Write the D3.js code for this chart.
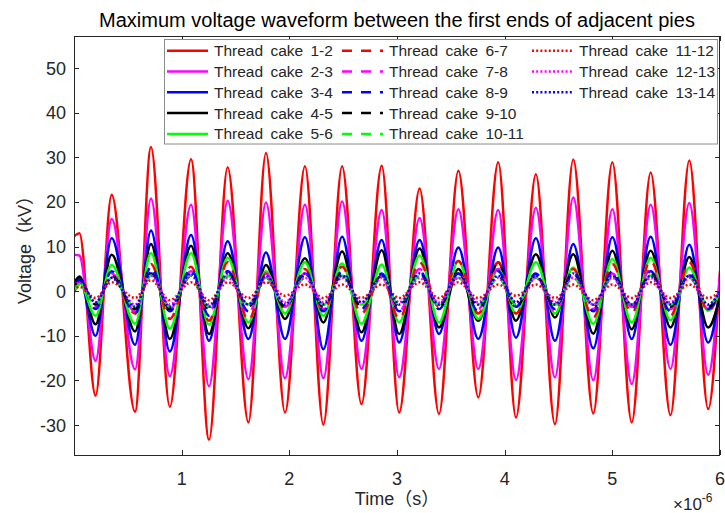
<!DOCTYPE html>
<html>
<head>
<meta charset="utf-8">
<script src="https://cdn.jsdelivr.net/npm/d3@7"></script>
<style>
  body { margin: 0; background: #fff; }
  svg { display: block; }
  text { font-family: "Liberation Sans", Arial, "Noto Sans CJK SC", sans-serif; }
</style>
</head>
<body>
<svg id="chart" width="725" height="513"></svg>
<script>
// Times (in microseconds) of the successive peaks and troughs shared by all waveforms
const extremaTimes = [0, 0.05, 0.2, 0.35, 0.567, 0.715, 0.89, 1.087, 1.254, 1.427, 1.62, 1.783,
  1.96, 2.145, 2.316, 2.49, 2.67, 2.858, 3.02, 3.21, 3.39, 3.57, 3.755, 3.94, 4.105, 4.29,
  4.467, 4.637, 4.823, 5.0, 5.18, 5.356, 5.54, 5.715, 5.89, 6.0];

// Voltage (kV) of each waveform at those times
const cake1_2 = [12.3, 13.0, -23.4, 21.6, -27.0, 32.3, -25.9, 29.6, -33.3, 27.8, -29.4, 31.0,
  -27.2, 28.0, -29.9, 28.0, -25.3, 28.1, -27.2, 23.0, -27.5, 27.0, -23.8, 28.9, -28.3, 26.2,
  -29.8, 29.5, -27.4, 28.9, -29.4, 26.6, -27.8, 29.3, -26.4, 4.6];
const cake2_3 = [8.2, 8.0, -15.6, 16.2, -17.5, 20.8, -19.0, 19.4, -21.3, 20.3, -19.7, 19.9,
  -19.5, 19.4, -19.5, 20.1, -17.4, 18.2, -19.3, 16.4, -17.4, 18.4, -17.4, 18.2, -19.9, 18.7,
  -19.3, 21.0, -19.9, 18.4, -20.8, 19.4, -17.4, 19.8, -18.7, 4.0];
const cake3_4 = [2.0, 3.0, -10.0, 11.9, -12.0, 13.6, -13.5, 12.6, -11.1, 11.2, -10.7, 8.7,
  -10.7, 12.1, -13.0, 12.2, -11.1, 11.5, -11.5, 11.5, -9.6, 9.8, -10.7, 9.8, -10.4, 11.9,
  -11.1, 10.6, -12.8, 12.1, -10.7, 12.2, -12.0, 10.4, -11.5, 0.3];
const cake4_5 = [1.5, 3.3, -7.4, 8.2, -9.0, 10.6, -10.7, 10.2, -9.6, 8.5, -8.3, 5.9,
  -6.2, 7.4, -7.0, 8.9, -9.2, 9.2, -9.6, 9.6, -8.1, 5.0, -6.6, 6.5, -6.6, 8.3,
  -5.9, 8.3, -9.5, 9.1, -8.5, 9.1, -8.1, 7.7, -8.1, -1.0];
const cake5_6 = [0.0, 2.0, -5.5, 5.9, -7.3, 8.5, -8.4, 8.5, -7.5, 7.5, -7.0, 4.5,
  -5.0, 6.5, -5.5, 6.2, -7.3, 6.0, -7.0, 8.0, -7.0, 6.8, -6.2, 5.0, -5.0, 6.5,
  -5.0, 5.3, -7.3, 7.2, -7.0, 7.5, -6.5, 5.3, -4.4, 0.0];
const cake6_7 = [-0.3, 1.8, -3.0, 3.5, -5.0, 6.1, -6.2, 5.5, -6.6, 6.5, -6.5, 4.0,
  -4.0, 5.0, -4.5, 5.5, -5.0, 3.5, -6.2, 6.5, -3.5, 6.8, -5.0, 6.5, -5.0, 4.0,
  -4.0, 5.0, -5.9, 6.1, -4.9, 6.8, -5.5, 6.5, -4.5, 0.5];
const cake7_8 = [0.5, 2.0, -3.5, 4.0, -4.5, 4.5, -4.0, 4.5, -4.5, 4.5, -5.0, 4.0,
  -3.5, 4.0, -4.0, 4.5, -3.5, 3.0, -4.5, 5.0, -3.5, 4.0, -4.0, 5.0, -3.0, 3.5,
  -4.5, 4.0, -4.0, 4.0, -3.5, 5.0, -4.0, 3.5, -4.0, 0.5];
const cake8_9 = [1.5, 2.5, -4.0, 4.5, -5.0, 5.5, -4.5, 5.0, -5.5, 4.5, -4.5, 3.5,
  -3.5, 4.5, -4.5, 4.5, -4.0, 4.0, -4.5, 4.5, -4.0, 4.0, -4.5, 4.5, -3.5, 4.0,
  -4.0, 4.5, -4.5, 4.5, -4.0, 4.5, -4.5, 4.0, -4.0, 0.0];
const cake9_10 = [0.5, 2.5, -3.0, 3.5, -4.0, 4.0, -4.0, 3.5, -4.0, 4.0, -3.5, 3.0,
  -3.5, 3.5, -3.5, 4.0, -3.5, 3.5, -3.5, 4.0, -3.5, 3.5, -3.5, 3.5, -3.5, 3.5,
  -3.5, 4.0, -3.5, 3.5, -3.5, 4.0, -3.5, 3.5, -3.5, 0.0];
const cake10_11 = [0.0, 1.5, -3.0, 3.0, -3.5, 3.5, -3.5, 3.5, -3.5, 3.5, -3.0, 3.0,
  -3.0, 3.0, -3.0, 3.5, -3.0, 3.0, -3.0, 3.5, -3.0, 3.0, -3.0, 3.0, -3.0, 3.0,
  -3.0, 3.0, -3.5, 3.0, -3.0, 3.5, -3.0, 3.0, -3.0, 0.0];
const cake11_12 = [0.0, 1.0, -1.5, 2.0, -1.5, 2.5, -2.0, 2.0, -2.0, 2.0, -1.5, 2.0,
  -1.0, 1.5, -1.5, 1.5, -1.5, 1.5, -1.5, 2.0, -1.5, 2.0, -1.5, 1.5, -1.0, 1.5,
  -1.5, 1.5, -2.0, 1.5, -1.5, 2.0, -1.5, 1.5, -1.5, 0.0];
const cake12_13 = [1.0, 2.0, -2.5, 3.0, -3.0, 3.5, -3.0, 3.5, -3.0, 3.0, -3.0, 3.0,
  -2.5, 3.0, -2.5, 3.0, -2.5, 3.0, -2.5, 3.0, -2.5, 3.0, -2.5, 3.0, -2.5, 3.0,
  -2.5, 3.0, -3.0, 3.0, -3.0, 3.0, -2.5, 3.0, -3.0, 0.0];
const cake13_14 = [2.0, 2.5, -2.5, 3.0, -3.5, 4.2, -3.5, 4.0, -3.5, 4.0, -3.0, 3.5,
  -3.0, 4.0, -3.0, 3.5, -2.5, 3.5, -3.0, 4.0, -3.0, 4.0, -3.0, 3.5, -2.5, 3.5,
  -3.0, 4.0, -3.0, 3.5, -3.0, 3.5, -3.0, 3.5, -3.0, 0.0];

const seriesValues = [cake1_2, cake2_3, cake3_4, cake4_5, cake5_6, cake6_7, cake7_8,
  cake8_9, cake9_10, cake10_11, cake11_12, cake12_13, cake13_14];
const seriesLabels = ["Thread cake 1-2", "Thread cake 2-3", "Thread cake 3-4", "Thread cake 4-5",
  "Thread cake 5-6", "Thread cake 6-7", "Thread cake 7-8", "Thread cake 8-9", "Thread cake 9-10",
  "Thread cake 10-11", "Thread cake 11-12", "Thread cake 12-13", "Thread cake 13-14"];

const xTicks = [1, 2, 3, 4, 5, 6];
const yTicks = [-30, -20, -10, 0, 10, 20, 30, 40, 50];

// Line styles: MATLAB-like colour cycle, solid / dashed / dotted groups
const seriesColors = ["#ff0000", "#ff00ff", "#0000ff", "#000000", "#00ff00",
  "#ff0000", "#ff00ff", "#0000ff", "#000000", "#00ff00",
  "#ff0000", "#ff00ff", "#0000ff"];
const seriesDash = [null, null, null, null, null,
  "10,9", "10,9", "10,9", "10,9", "10,9",
  "2,2.2", "2,2.2", "2,2.2"];

const svg = d3.select("#chart");
const plot = { left: 74, right: 720, top: 36, bottom: 455 };
const axisColor = "#262626";

const x = d3.scaleLinear().domain([0, 6]).range([plot.left, plot.right]);
const y = d3.scaleLinear().domain([-36.7, 57.2]).range([plot.bottom, plot.top]);

// Title
svg.append("text")
  .attr("x", (plot.left + plot.right) / 2).attr("y", 27)
  .attr("text-anchor", "middle").attr("font-size", 20).attr("fill", "#000")
  .text("Maximum voltage waveform between the first ends of adjacent pies");

// Clip region for the waveforms
svg.append("defs").append("clipPath").attr("id", "plotClip")
  .append("rect")
  .attr("x", plot.left).attr("y", plot.top)
  .attr("width", plot.right - plot.left).attr("height", plot.bottom - plot.top);

const line = d3.line()
  .x(d => x(d[0]))
  .y(d => y(d[1]))
  .curve(d3.curveMonotoneX);

const lines = svg.append("g").attr("clip-path", "url(#plotClip)");
seriesValues.forEach((vals, i) => {
  const pts = extremaTimes.map((t, j) => [t, vals[j]]);
  lines.append("path")
    .attr("d", line(pts))
    .attr("fill", "none")
    .attr("stroke", seriesColors[i])
    .attr("stroke-width", 2.5)
    .attr("stroke-dasharray", seriesDash[i])
    .attr("stroke-linejoin", "round");
});

// Axes box with inward ticks on all four sides
const axes = svg.append("g").attr("stroke", axisColor).attr("stroke-width", 1).attr("fill", "none");
axes.append("rect")
  .attr("x", plot.left + 0.5).attr("y", plot.top + 0.5)
  .attr("width", plot.right - plot.left - 1).attr("height", plot.bottom - plot.top);
const tickLen = 5;
xTicks.forEach(t => {
  const px = Math.round(x(t)) + 0.5;
  axes.append("line").attr("x1", px).attr("x2", px).attr("y1", plot.bottom).attr("y2", plot.bottom - tickLen);
  axes.append("line").attr("x1", px).attr("x2", px).attr("y1", plot.top).attr("y2", plot.top + tickLen);
});
yTicks.forEach(v => {
  const py = Math.round(y(v)) + 0.5;
  axes.append("line").attr("x1", plot.left).attr("x2", plot.left + tickLen).attr("y1", py).attr("y2", py);
  axes.append("line").attr("x1", plot.right).attr("x2", plot.right - tickLen).attr("y1", py).attr("y2", py);
});

// Tick labels
svg.append("g").selectAll("text").data(yTicks).join("text")
  .attr("x", plot.left - 8).attr("y", d => y(d)).attr("dy", "0.36em")
  .attr("text-anchor", "end").attr("font-size", 18).attr("fill", axisColor)
  .text(d => d);
svg.append("g").selectAll("text").data(xTicks).join("text")
  .attr("x", d => x(d)).attr("y", 485)
  .attr("text-anchor", "middle").attr("font-size", 18).attr("fill", axisColor)
  .text(d => d);

// Exponent marker for the time axis
const expo = svg.append("text").attr("x", 673).attr("y", 510)
  .attr("font-size", 17).attr("fill", axisColor);
expo.append("tspan").text("×10");
expo.append("tspan").attr("dy", -8).attr("font-size", 12).text("-6");

// Axis labels
svg.append("text")
  .attr("x", (plot.left + plot.right) / 2).attr("y", 505)
  .attr("text-anchor", "middle").attr("font-size", 18).attr("fill", axisColor)
  .text("Time（s）");
svg.append("text")
  .attr("transform", `translate(31,${(plot.top + plot.bottom) / 2}) rotate(-90)`)
  .attr("text-anchor", "middle").attr("font-size", 18).attr("fill", axisColor)
  .text("Voltage（kV）");

// Legend
const legend = svg.append("g");
legend.append("rect")
  .attr("x", 164.5).attr("y", 39.5).attr("width", 553).attr("height", 104.5)
  .attr("fill", "#fff").attr("stroke", "#8c8c8c").attr("stroke-width", 1);
const colX = [167, 342, 532];
seriesLabels.forEach((label, i) => {
  const col = Math.floor(i / 5), row = i % 5;
  const lx = colX[col], ly = 50.7 + row * 20.8;
  legend.append("line")
    .attr("x1", lx).attr("x2", lx + 41).attr("y1", ly).attr("y2", ly)
    .attr("stroke", seriesColors[i]).attr("stroke-width", 2.5)
    .attr("stroke-dasharray", seriesDash[i]);
  legend.append("text")
    .attr("x", lx + 47).attr("y", ly).attr("dy", "0.35em")
    .attr("font-size", 15.5).attr("word-spacing", 3).attr("fill", axisColor)
    .text(label);
});
</script>
</body>
</html>
